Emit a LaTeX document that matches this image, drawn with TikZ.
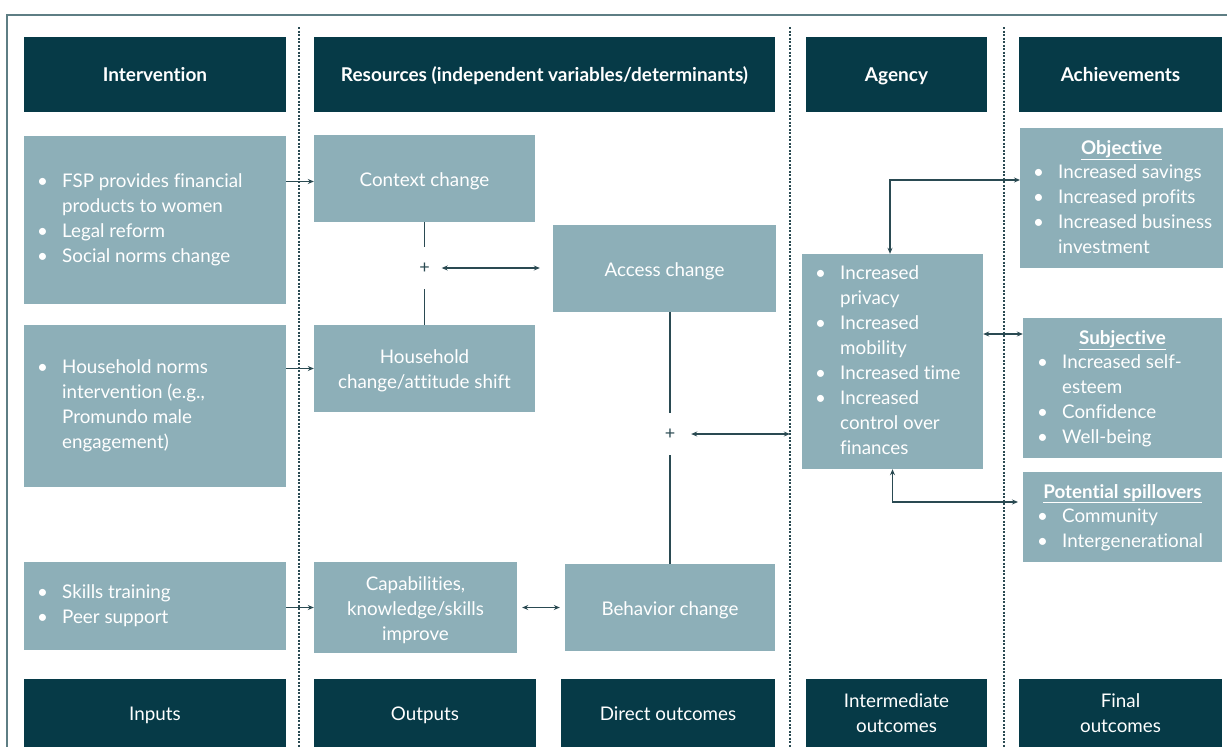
\documentclass[tikz,border=0pt]{standalone}
\usepackage{fontspec}
\setmainfont{Lato}[Ligatures={NoCommon}]
\usetikzlibrary{arrows.meta}
\definecolor{dk}{HTML}{063A47}
\definecolor{lt}{HTML}{8DAFB8}
\definecolor{ln}{HTML}{2A4A52}
\definecolor{fr}{HTML}{5E7E84}
\newcommand{\blist}[1]{\begin{tabular}{@{}p{25pt}@{}l@{}}#1\end{tabular}}
\newcommand{\dn}[2][2.5pt]{\raisebox{-#1}[\height][\depth]{\begin{tabular}{@{}c@{}}#2\end{tabular}}}
\begin{document}
\begin{tikzpicture}[x=1pt,y=-1pt,
 hdr/.style={fill=dk,text=white,inner sep=0pt,align=center,text height=15pt,text depth=1.5pt,font=\fontsize{19}{25}\selectfont\bfseries},
 ftr/.style={fill=dk,text=white,inner sep=0pt,align=center,font=\fontsize{18.8}{25}\selectfont},
 lbox/.style={fill=lt,inner sep=0pt,text=white,align=center,font=\fontsize{18.8}{25}\selectfont},
 ltext/.style={text=white,anchor=west,inner sep=0pt,font=\fontsize{18.8}{25}\selectfont},
 ttl/.style={text=white,anchor=base,inner sep=0pt,font=\fontsize{18.8}{25}\selectfont\bfseries},
 conn/.style={draw=ln,line width=1.7pt},
 arr/.style={conn,-{Stealth[length=6pt,width=5pt]}},
 dbl/.style={conn,{Stealth[length=6pt,width=5pt]}-{Stealth[length=6pt,width=5pt]}},
 sep/.style={draw=ln,line width=1.3pt,dash pattern=on 2pt off 1.5pt},
 plusnode/.style={inner sep=0pt,text=ln,font=\fontsize{18}{18}\selectfont}
]
\useasboundingbox (0,0) rectangle (1227,747);
% frame
\draw[fr,line width=1.5pt] (7,747) -- (7,15) -- (1227,15);
% separators
\draw[sep] (299,27) -- (299,747);
\draw[sep] (790,27) -- (790,747);
\draw[sep] (1004,27) -- (1004,747);

% headers
\node[hdr,minimum width=262pt,minimum height=75pt] (hInt) at (155,74.5) {Intervention};
\node[hdr,minimum width=461pt,minimum height=75pt] (hRes) at (544.5,74.5) {Resources (independent variables/determinants)};
\node[hdr,minimum width=181pt,minimum height=75pt] (hAg) at (896.5,74.5) {Agency};
\node[hdr,minimum width=203pt,minimum height=75pt] (hAch) at (1120.5,74.5) {Achievements};

% footers
\node[ftr,minimum width=262pt,minimum height=68pt] (fIn) at (155,713) {\dn[2pt]{Inputs}};
\node[ftr,minimum width=222pt,minimum height=68pt] (fOut) at (425,713) {\dn[2pt]{Outputs}};
\node[ftr,minimum width=214pt,minimum height=68pt] (fDir) at (668,713) {\dn[2pt]{Direct outcomes}};
\node[ftr,minimum width=181pt,minimum height=68pt] (fIm) at (896.5,713) {Intermediate\\outcomes};
\node[ftr,minimum width=203pt,minimum height=68pt] (fFin) at (1120.5,713) {Final\\outcomes};

% intervention boxes
\node[lbox,minimum width=262pt,minimum height=168pt] (int1) at (155,220) {};
\node[ltext] (int1t) at (37,220) {\blist{•&FSP provides financial\\&products to women\\•&Legal reform\\•&Social norms change}};
\node[lbox,minimum width=262pt,minimum height=162pt] (int2) at (155,406) {};
\node[ltext] (int2t) at (37,406) {\blist{•&Household norms\\&intervention (e.g.,\\&Promundo male\\&engagement)}};
\node[lbox,minimum width=262pt,minimum height=88pt] (int3) at (155,606) {};
\node[ltext] (int3t) at (37,606) {\blist{•&Skills training\\•&Peer support}};

% resources boxes
\node[lbox,minimum width=221pt,minimum height=87pt] (ctx) at (424.5,178.5) {\dn{Context change}};
\node[lbox,minimum width=221pt,minimum height=87pt] (hh) at (424.5,368.5) {\dn{Household\\change/attitude shift}};
\node[lbox,minimum width=223pt,minimum height=87pt] (acc) at (664.5,268.5) {\dn{Access change}};
\node[lbox,minimum width=203pt,minimum height=91pt] (cap) at (415.5,607.5) {\dn{Capabilities,\\knowledge/skills\\improve}};
\node[lbox,minimum width=210pt,minimum height=87pt] (beh) at (670,607.5) {\dn{Behavior change}};

% plus nodes
\node[plusnode,minimum width=34pt,minimum height=42pt] (p1) at (424.5,268) {+};
\node[plusnode,minimum width=42pt,minimum height=42pt] (p2) at (670,434) {+};

% agency
\node[lbox,minimum width=181pt,minimum height=215pt] (ag) at (892.5,361.5) {};
\node[ltext] (agt) at (815,361.5) {\blist{•&Increased\\&privacy\\•&Increased\\&mobility\\•&Increased time\\•&Increased\\&control over\\&finances}};

% achievements
\node[lbox,minimum width=203pt,minimum height=140pt] (obj) at (1121.5,198) {};
\node[ttl] (objh) at (1121.5,154) {\underline{Objective}};
\node[ltext] (objt) at (1033,210.5) {\blist{•&Increased savings\\•&Increased profits\\•&Increased business\\&investment}};
\node[lbox,minimum width=199pt,minimum height=140pt] (sub) at (1122.5,388) {};
\node[ttl] (subh) at (1122.5,344) {\underline{Subjective}};
\node[ltext] (subt) at (1037,400.5) {\blist{•&Increased self-\\&esteem\\•&Confidence\\•&Well-being}};
\node[lbox,minimum width=199pt,minimum height=90pt] (spl) at (1122.5,517) {};
\node[ttl] (splh) at (1122.5,498) {\underline{Potential spillovers}};
\node[ltext] (splt) at (1037,529.5) {\blist{•&Community\\•&Intergenerational}};

% connectors
\draw[arr] ([yshift=-3pt]ctx.west -| int1.east) -- ([yshift=-3pt]ctx.west);
\draw[arr] (hh.west -| int2.east) -- (hh.west);
\draw[arr] (cap.west -| int3.east) -- (cap.west);
\draw[conn] (ctx.south) -- (p1.north);
\draw[conn] (p1.south) -- (hh.north);
\draw[dbl,shorten >=13pt] (p1.east) -- (p1.east -| acc.west);
\draw[conn] (p2.north |- acc.south) -- (p2.north);
\draw[conn] (p2.south) -- (p2.south |- beh.north);
\draw[dbl,shorten >=12pt] (p2.east) -- (p2.east -| ag.west);
\draw[dbl,shorten <=5pt,shorten >=5pt] (cap.east |- beh.west) -- (beh.west);
\coordinate (eObj) at (1020,180);
\coordinate (eSub) at (1000,334);
\coordinate (eSpl) at (1018,502);
\draw[dbl] (ag.north -| 890,0) |- (eObj);
\draw[dbl] (ag.east |- eSub) -- (sub.west |- eSub);
\draw[dbl] (ag.south) |- (eSpl);
\end{tikzpicture}
\end{document}
